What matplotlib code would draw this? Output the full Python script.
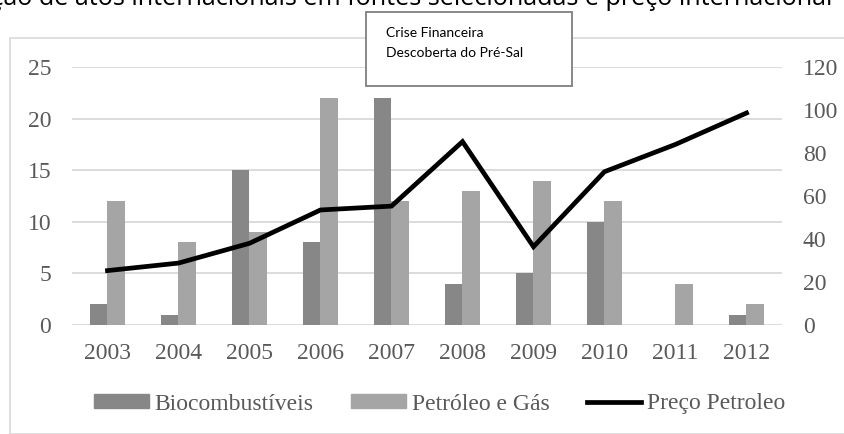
import matplotlib
matplotlib.use("Agg")
import matplotlib.pyplot as plt
import numpy as np
from matplotlib.patches import Rectangle, Patch
from matplotlib.lines import Line2D

anos = ["2003", "2004", "2005", "2006", "2007", "2008", "2009", "2010", "2011", "2012"]
biocomb = [2, 1, 15, 8, 22, 4, 5, 10, 0, 1]
petroleo_gas = [12, 8, 9, 22, 12, 13, 14, 12, 4, 2]
preco = [25.3, 28.8, 38, 53.5, 55.3, 85.3, 36.4, 71.3, 84, 98.6]

W, H = 845, 434
cinza_txt = "#595959"
cor_bio = "#878787"
cor_pet = "#a5a5a5"
grade = "#d9d9d9"
serif = "Liberation Serif"
fs = 17

fig = plt.figure(figsize=(W / 100, H / 100), dpi=100)

# moldura do grafico (cortada na imagem original)
fig.patches.append(Rectangle((10 / W, 0), 1.2, 1 - 38 / H, transform=fig.transFigure,
                             fill=False, edgecolor=grade, lw=1.2, zorder=0))

# titulo: so a parte de baixo aparece na imagem original
titulo = "Evolução de atos internacionais em fontes selecionadas e preço internacional"
t = fig.text(832 / W, 1 - 5 / H, titulo, ha="right", va="baseline",
             fontsize=16, family="Open Sans", color="black")
r = fig.canvas.get_renderer()
parte = fig.text(0, 0, "de atos internacionais em fontes selecionadas e preço internacional",
                 fontsize=16, family="Open Sans")
larg = parte.get_window_extent(r).width
parte.remove()
t.set_fontsize(16 * 795 / larg)

ax = fig.add_axes([72 / W, 1 - 325 / H, (782 - 72) / W, (325 - 67) / H])
x = np.arange(len(anos))
w = 0.24
ax.bar(x - w / 2, biocomb, w, color=cor_bio, zorder=2)
ax.bar(x + w / 2, petroleo_gas, w, color=cor_pet, zorder=2)
ax.set_xlim(-0.5, len(anos) - 0.5)
ax.set_ylim(0, 25)
ax.set_yticks([0, 5, 10, 15, 20, 25])
ax.yaxis.grid(True, color=grade, lw=1.3, zorder=0)
ax.set_axisbelow(True)
ax.set_xticks(x)
ax.set_xticklabels(anos)
for s in ax.spines.values():
    s.set_visible(False)
ax.tick_params(length=0, labelsize=fs, labelcolor=cinza_txt)
ax.tick_params(axis="x", pad=13)
ax.tick_params(axis="y", pad=15)
for lab in ax.get_xticklabels() + ax.get_yticklabels():
    lab.set_family(serif)

ax2 = ax.twinx()
ax2.plot(x, preco, color="black", lw=3.4, solid_joinstyle="miter", zorder=3)
ax2.set_ylim(0, 120)
ax2.set_yticks(range(0, 121, 20))
for s in ax2.spines.values():
    s.set_visible(False)
ax2.tick_params(length=0, labelsize=fs, labelcolor=cinza_txt, pad=15)
for lab in ax2.get_yticklabels():
    lab.set_family(serif)

# caixa de anotacao
fig.patches.append(Rectangle((366 / W, 1 - 86 / H), (572 - 366) / W, (86 - 12) / H,
                             transform=fig.transFigure, facecolor="white",
                             edgecolor="#7f7f7f", lw=1.3, zorder=5))
fig.text(386 / W, 1 - 33 / H, "Crise Financeira", ha="left", va="center",
         fontsize=10, family="Lato", color="black", zorder=6)
fig.text(386 / W, 1 - 53 / H, "Descoberta do Pré-Sal", ha="left", va="center",
         fontsize=10, family="Lato", color="black", zorder=6)

handles = [Patch(color=cor_bio), Patch(color=cor_pet), Line2D([], [], color="black", lw=3.4)]
labels = ["Biocombustíveis", "Petróleo e Gás", "Preço Petroleo"]
leg = fig.legend(handles, labels, loc="center", bbox_to_anchor=(440 / W, 1 - 404 / H), ncol=3,
                 frameon=False, prop={"family": serif, "size": fs},
                 handlelength=2.3, handleheight=0.5, handletextpad=0.25, columnspacing=1.6)
for tx in leg.get_texts():
    tx.set_color(cinza_txt)

fig.savefig("out.png", dpi=100)
